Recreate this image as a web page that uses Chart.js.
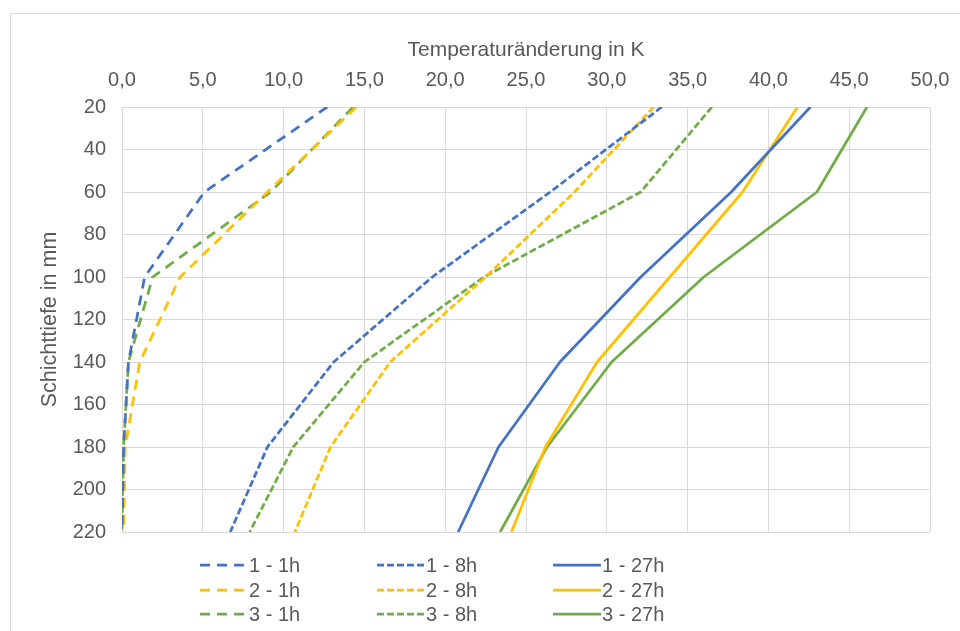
<!DOCTYPE html>
<html>
<head>
<meta charset="utf-8">
<script src="https://cdn.jsdelivr.net/npm/chart.js@4/dist/chart.umd.min.js"></script>
<style>
  html, body { margin: 0; padding: 0; background: #ffffff; }
  #wrap { position: relative; width: 960px; height: 631px; overflow: hidden;
          font-family: "Liberation Sans", Arial, sans-serif; }
  #frame { position: absolute; left: 10px; top: 13px; width: 980px; height: 660px;
           border: 1px solid #d9d9d9; box-sizing: border-box; }
  #c { position: absolute; left: 0; top: 0; }
  .leg { position: absolute; display: flex; align-items: center; height: 24px;
         font-size: 20px; color: #595959; white-space: nowrap; }
  .leg svg { display: block; margin-right: 1px; }
</style>
</head>
<body>
<div id="wrap">
  <div id="frame"></div>
  <canvas id="c" width="960" height="631"></canvas>
  <div id="legend"></div>
</div>
<script>
// Layer depth in mm (y axis, downwards)
const depths = [20, 60, 100, 140, 180, 220];

// Temperature change in K per layer depth
const t1_1h  = [12.7, 5.1, 1.4, 0.4, 0.1, 0.0];
const t2_1h  = [14.5, 9.0, 3.6, 1.1, 0.2, 0.1];
const t3_1h  = [14.3, 9.2, 1.9, 0.4, 0.1, 0.0];
const t1_8h  = [33.4, 26.5, 19.2, 13.1, 9.0, 6.7];
const t2_8h  = [32.9, 28.0, 22.5, 16.6, 12.9, 10.7];
const t3_8h  = [36.5, 32.1, 22.4, 15.0, 10.6, 7.9];
const t1_27h = [42.6, 37.7, 32.1, 27.1, 23.3, 20.8];
const t2_27h = [41.8, 38.4, 33.9, 29.4, 26.2, 24.1];
const t3_27h = [46.1, 43.0, 36.0, 30.3, 26.3, 23.4];

const seriesLabels = ["1 - 1h", "2 - 1h", "3 - 1h", "1 - 8h", "2 - 8h", "3 - 8h", "1 - 27h", "2 - 27h", "3 - 27h"];
const seriesValues = [t1_1h, t2_1h, t3_1h, t1_8h, t2_8h, t3_8h, t1_27h, t2_27h, t3_27h];

const BLUE = "#4472C4", GOLD = "#FFC000", GREEN = "#70AD47";
const colors = [BLUE, GOLD, GREEN, BLUE, GOLD, GREEN, BLUE, GOLD, GREEN];
const DASH_LONG = [10, 7], DASH_SHORT = [7, 3], SOLID = [];
const dashes = [DASH_LONG, DASH_LONG, DASH_LONG, DASH_SHORT, DASH_SHORT, DASH_SHORT, SOLID, SOLID, SOLID];

const FONT = "'Liberation Sans', Arial, sans-serif";
const TEXT = "#595959";
const GRID = "#d9d9d9";

const datasets = seriesLabels.map((label, i) => ({
  label,
  data: depths.map((d, k) => ({ x: seriesValues[i][k], y: d })),
  borderColor: colors[i],
  backgroundColor: colors[i],
  borderDash: dashes[i],
  borderWidth: 2.75,
  borderCapStyle: "butt",
  borderJoinStyle: "round",
  pointRadius: 0,
  tension: 0,
  fill: false,
  showLine: true,
  order: i
}));

const fmt = v => Number(v).toFixed(1).replace(".", ",");

new Chart(document.getElementById("c"), {
  type: "scatter",
  data: { datasets },
  options: {
    responsive: false,
    devicePixelRatio: 1,
    animation: false,
    layout: { padding: { left: 0, top: 0, right: 30, bottom: 99 } },
    plugins: { legend: { display: false }, tooltip: { enabled: false } },
    scales: {
      x: {
        type: "linear",
        position: "top",
        min: 0, max: 50,
        ticks: { stepSize: 5, color: TEXT, padding: 15, font: { family: FONT, size: 20 },
                 callback: v => fmt(v), maxRotation: 0 },
        grid: { color: GRID, lineWidth: 1, drawTicks: false },
        border: { display: true, color: GRID, width: 1 },
        title: { display: true, text: "Temperaturänderung in K", color: TEXT,
                 font: { family: FONT, size: 21 }, padding: { top: 38, bottom: 0 } },
        afterFit: s => { s.height = 107; s.paddingLeft = 0; s.paddingRight = 0; }
      },
      y: {
        type: "linear",
        reverse: true,
        min: 20, max: 220,
        ticks: { stepSize: 20, color: TEXT, padding: 16, font: { family: FONT, size: 20 } },
        grid: { color: GRID, lineWidth: 1, drawTicks: false },
        border: { display: true, color: GRID, width: 1 },
        title: { display: true, text: "Schichttiefe in mm", color: TEXT,
                 font: { family: FONT, size: 21.5 }, padding: { top: 37, bottom: 0 } },
        afterFit: s => { s.width = 122; s.paddingTop = 0; s.paddingBottom = 0; }
      }
    }
  }
});

// Legend: three columns (1h, 8h, 27h), three rows (series 1..3)
const legendCols = [200, 377, 553];
const legendRows = [565, 590, 614];
const legendEl = document.getElementById("legend");
datasets.forEach((ds, i) => {
  const col = Math.floor(i / 3), row = i % 3;
  const item = document.createElement("div");
  item.className = "leg";
  item.style.left = legendCols[col] + "px";
  item.style.top = (legendRows[row] - 12) + "px";
  const dash = ds.borderDash.length ? ds.borderDash.join(" ") : "none";
  item.innerHTML =
    '<svg width="48" height="24"><line x1="0" y1="12" x2="48" y2="12" stroke="' + ds.borderColor +
    '" stroke-width="2.75" stroke-dasharray="' + dash + '"/></svg><span>' + ds.label + '</span>';
  legendEl.appendChild(item);
});
</script>
</body>
</html>
